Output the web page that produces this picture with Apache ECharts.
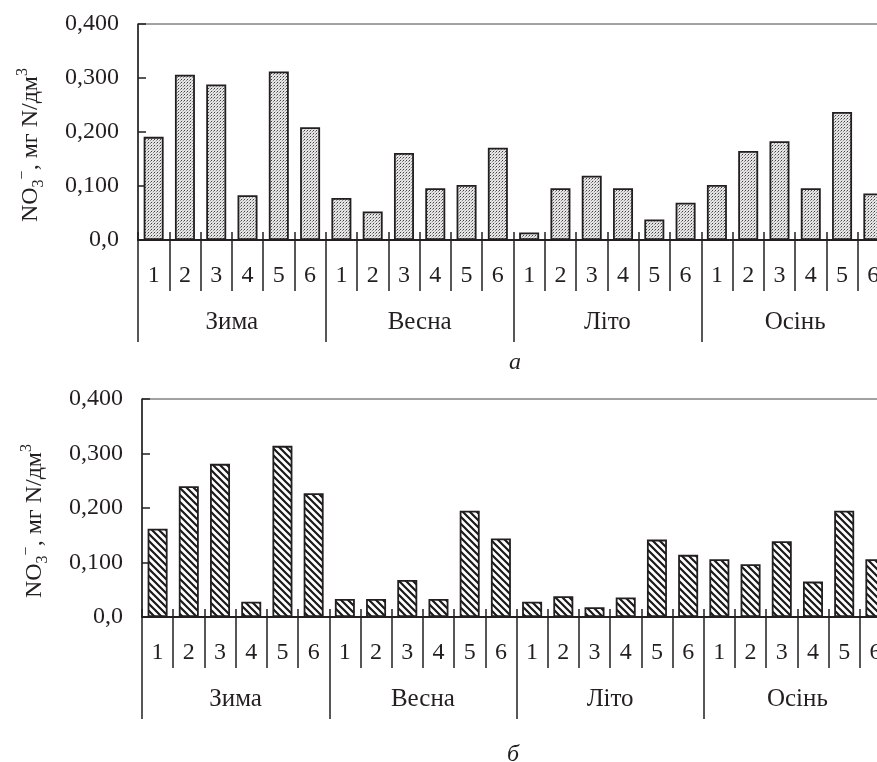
<!DOCTYPE html>
<html><head><meta charset="utf-8">
<script src="https://cdn.jsdelivr.net/npm/echarts@6/dist/echarts.min.js"></script>
<style>html,body{margin:0;padding:0;background:#fff}#c{width:877px;height:762px}</style>
</head><body><div id="c"></div>
<script>
// ---- data ----
const seasons = ['Зима', 'Весна', 'Літо', 'Осінь'];
const points = ['1', '2', '3', '4', '5', '6'];
const yTickLabels = ['0,0', '0,100', '0,200', '0,300', '0,400'];
const valuesA = [0.191, 0.306, 0.288, 0.083, 0.312, 0.209,
                 0.078, 0.053, 0.161, 0.096, 0.102, 0.171,
                 0.014, 0.096, 0.119, 0.096, 0.038, 0.069,
                 0.102, 0.165, 0.183, 0.096, 0.237, 0.086];
const valuesB = [0.162, 0.240, 0.281, 0.028, 0.314, 0.227,
                 0.033, 0.033, 0.068, 0.033, 0.195, 0.144,
                 0.028, 0.038, 0.018, 0.036, 0.142, 0.114,
                 0.106, 0.097, 0.139, 0.065, 0.195, 0.106];
const captions = ['а', 'б'];
const axisTitle = '{n|NO}{sub|3}{sup|−}{n|, мг N/дм}{sup|3}';

// ---- helpers ----
const FONT = '"Liberation Serif", "DejaVu Serif", serif';
const INK = '#231f20';
const cats = [];
seasons.forEach(s => points.forEach(p => cats.push(s + '|' + p)));

function dotPattern() {
  const c = document.createElement('canvas');
  c.width = 3; c.height = 3;
  const x = c.getContext('2d');
  x.fillStyle = '#e6e6e6'; x.fillRect(0, 0, 3, 3);
  x.fillStyle = '#404040'; x.fillRect(1, 1, 1, 1);
  x.fillStyle = '#8c8c8c'; x.fillRect(0, 2, 1, 1);
  x.fillStyle = '#c4c4c4'; x.fillRect(2, 0, 1, 1);
  return c;
}
function hatchPattern() {
  const s = 7;
  const c = document.createElement('canvas');
  c.width = s; c.height = s;
  const x = c.getContext('2d');
  x.fillStyle = '#fff'; x.fillRect(0, 0, s, s);
  x.strokeStyle = '#1a1a1a'; x.lineWidth = 2.2; x.lineCap = 'square';
  x.beginPath();
  x.moveTo(-1, -1); x.lineTo(s + 1, s + 1);
  x.moveTo(-1, s - 1); x.lineTo(1, s + 1);
  x.moveTo(s - 1, -1); x.lineTo(s + 1, 1);
  x.stroke();
  return c;
}

const grids = [
  {left: 138, top: 24, width: 751, height: 216},
  {left: 142, top: 399, width: 749, height: 218}
];
const fills = [dotPattern(), hatchPattern()];
const vals = [valuesA, valuesB];

const xAxis = [], yAxis = [], series = [];
grids.forEach((g, i) => {
  xAxis.push({
    gridIndex: i, type: 'category', data: cats, position: 'bottom',
    axisLine: {show: true, onZero: false, lineStyle: {color: INK, width: 2}},
    axisTick: {show: true, interval: 0, length: 51, lineStyle: {color: INK, width: 1.5}},
    axisLabel: {interval: 0, margin: 24, fontSize: 24, fontFamily: FONT, color: INK,
      formatter: v => v.split('|')[1]},
    splitLine: {show: false}
  });
  xAxis.push({
    gridIndex: i, type: 'category', data: cats, position: 'bottom',
    axisLine: {show: false},
    axisTick: {show: true, inside: true, interval: 0, length: 8, lineStyle: {color: INK, width: 1.5}},
    axisLabel: {show: false}, splitLine: {show: false}
  });
  xAxis.push({
    gridIndex: i, type: 'category', data: seasons, position: 'bottom',
    axisLine: {show: false},
    axisTick: {show: true, interval: 0, length: 102, lineStyle: {color: INK, width: 1.5}},
    axisLabel: {interval: 0, margin: 70, fontSize: 25, fontFamily: FONT, color: INK},
    splitLine: {show: false}
  });
  yAxis.push({
    gridIndex: i, type: 'value', min: 0, max: 0.4, interval: 0.1,
    axisLine: {show: true, lineStyle: {color: INK, width: 1.5}},
    axisTick: {show: true, inside: true, length: 8, lineStyle: {color: INK, width: 1.5}},
    axisLabel: {margin: 19, fontSize: 24, fontFamily: FONT, color: INK,
      formatter: v => yTickLabels[Math.round(v * 10)]},
    splitLine: {show: false},
    name: axisTitle, nameLocation: 'middle', nameGap: 91, nameRotate: 90,
    nameTextStyle: {
      padding: [0, 26, 0, 0],
      rich: {
        n: {fontSize: 24, fontFamily: FONT, color: INK, lineHeight: 32},
        sub: {fontSize: 16, fontFamily: FONT, color: INK, lineHeight: 14, verticalAlign: 'bottom'},
        sup: {fontSize: 16, fontFamily: FONT, color: INK, lineHeight: 14, verticalAlign: 'top'}
      }
    }
  });
  series.push({
    type: 'bar', xAxisIndex: i * 3, yAxisIndex: i, data: vals[i], barWidth: 20,
    itemStyle: {color: {image: fills[i], repeat: 'repeat'}, borderColor: INK, borderWidth: 1.8},
    silent: true, animation: false
  });
});

const chart = echarts.init(document.getElementById('c'), null, {renderer: 'canvas'});
chart.setOption({
  backgroundColor: '#fff',
  animation: false,
  grid: grids.map(g => Object.assign({show: true, borderColor: '#444', borderWidth: 1,
    backgroundColor: 'transparent', containLabel: false, outerBoundsMode: 'none'}, g)),
  xAxis, yAxis, series,
  title: [
    {text: captions[0], left: 504, top: 346,
      textStyle: {fontStyle: 'italic', fontWeight: 'normal', fontSize: 24, fontFamily: FONT, color: INK}},
    {text: captions[1], left: 502, top: 738,
      textStyle: {fontStyle: 'italic', fontWeight: 'normal', fontSize: 24, fontFamily: FONT, color: INK}}
  ]
});
</script>
</body></html>
